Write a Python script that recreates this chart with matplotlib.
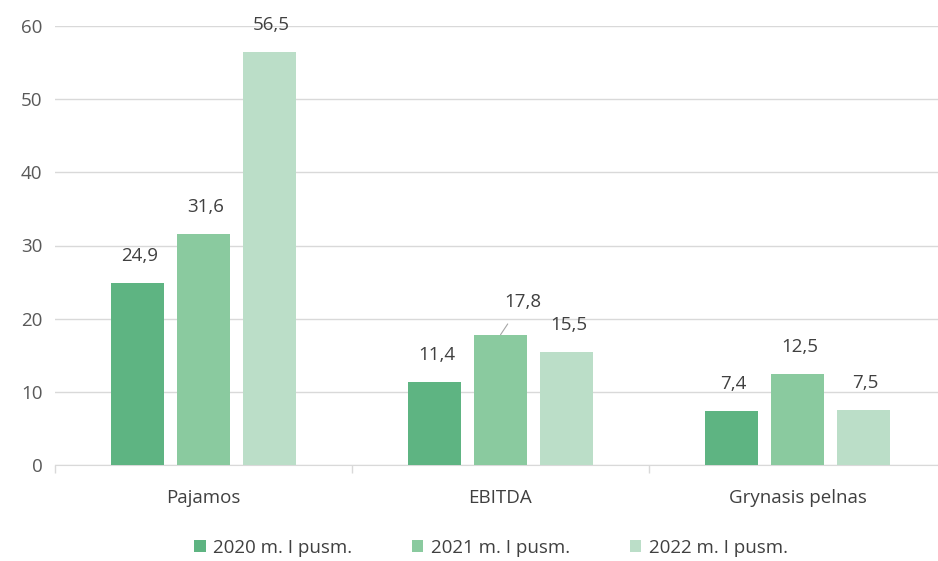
import matplotlib
matplotlib.use("Agg")
import matplotlib.pyplot as plt
import numpy as np

categories = ["Pajamos", "EBITDA", "Grynasis pelnas"]
series_names = ["2020 m. I pusm.", "2021 m. I pusm.", "2022 m. I pusm."]
v2020 = [24.9, 11.4, 7.4]
v2021 = [31.6, 17.8, 12.5]
v2022 = [56.5, 15.5, 7.5]
colors = ["#5eb482", "#8aca9f", "#bbdec8"]

plt.rcParams['font.family'] = ['Open Sans', 'DejaVu Sans']
txt = "#595959"
lbl = "#404040"
fs = 13.5

W, H = 938, 561
fig = plt.figure(figsize=(W/100, H/100), dpi=100)
ax = fig.add_axes([55/W, 1-465/H, (946-55)/W, (465-26)/H])
ax.set_ylim(0, 60)
ax.set_xlim(-0.5, 2.5)

x = np.arange(len(categories))
bw = 0.178
step = 0.222
all_vals = [v2020, v2021, v2022]
for i, (vals, c, name) in enumerate(zip(all_vals, colors, series_names)):
    pos = x + (i-1)*step
    ax.bar(pos, vals, width=bw, color=c, label=name, zorder=3)
    for j, (p, v) in enumerate(zip(pos, vals)):
        lab = f"{v:.1f}".replace(".", ",")
        if i == 1 and j == 1:
            ax.annotate(lab, xy=(p, v), xytext=(22, 33), textcoords="offset pixels",
                        ha="center", va="center", fontsize=fs, color=lbl,
                        arrowprops=dict(arrowstyle="-", color="#a6a6a6", lw=0.8, shrinkA=9, shrinkB=0))
        else:
            ax.annotate(lab, xy=(p, v), xytext=(2, 27), textcoords="offset pixels",
                        ha="center", va="center", fontsize=fs, color=lbl)

ax.set_yticks(range(0, 61, 10))
ax.yaxis.grid(True, color="#d9d9d9", lw=1, zorder=0)
ax.tick_params(axis="y", length=0, labelsize=fs, labelcolor=txt, pad=9)
ax.set_xticks(x)
ax.set_xticklabels(categories)
ax.tick_params(axis="x", length=0, labelsize=fs, labelcolor=lbl, pad=17)
ax.set_xticks([-0.5, 0.5, 1.5, 2.5], minor=True)
ax.tick_params(axis="x", which="minor", length=6, color="#d9d9d9", width=1)
for s in ["top", "right", "left"]:
    ax.spines[s].set_visible(False)
ax.spines["bottom"].set_color("#d9d9d9")

leg = fig.legend(loc="center", bbox_to_anchor=(491/W, 1-548/H), ncol=3, frameon=False,
                 fontsize=fs, handlelength=0.6, handleheight=0.6, handletextpad=0.4,
                 columnspacing=3.2, labelcolor=lbl)

fig.savefig("out.png", dpi=100)
